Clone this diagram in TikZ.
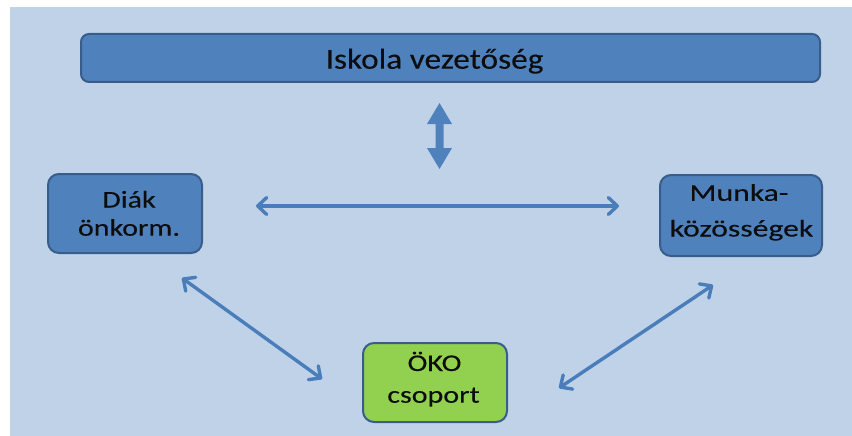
\documentclass[tikz,border=0pt]{standalone}
\usepackage{fontspec}
\setmainfont{Carlito}
\newfontfamily\topfont[FakeStretch=1.15,FakeBold=0.2]{Carlito}
\newfontfamily\wfont[FakeStretch=1.25,FakeBold=0.2]{Carlito}
\newfontfamily\wwfont[FakeStretch=1.32,FakeBold=0.2]{Carlito}
\usetikzlibrary{arrows.meta}
\definecolor{bgc}{HTML}{C0D2E8}
\definecolor{boxc}{HTML}{4F81BD}
\definecolor{edgec}{HTML}{385D8A}
\definecolor{greenc}{HTML}{92D050}
\definecolor{arrc}{HTML}{4A7EBB}
\definecolor{txtc}{HTML}{0D0D0D}
\tikzset{
  box/.style={draw=edgec, line width=2pt, fill=boxc, rounded corners=11pt,
    inner sep=0pt},
  lbl/.style={anchor=base, inner sep=0pt, text=txtc},
  boxtext/.style={lbl, font=\wfont\fontsize{24pt}{28pt}\selectfont},
  link/.style={draw=arrc, line width=3.4pt,
    {Straight Barb[length=9pt,width=17pt,round]}-{Straight Barb[length=9pt,width=17pt,round]}},
}
\begin{document}
\begin{tikzpicture}[x=1pt,y=-1pt]
\useasboundingbox (0,0) rectangle (852,436);
\fill[white] (0,0) rectangle (852,436);
\fill[bgc] (10,7) rectangle (852,436);
\node[box, rounded corners=8pt, minimum width=739pt, minimum height=48pt] (top) at (450.5,58) {};
\node[box, minimum width=154pt, minimum height=79pt] (diak) at (125,213.5) {};
\node[box, minimum width=162pt, minimum height=81pt] (munka) at (741,215.5) {};
\node[box, fill=greenc, minimum width=144pt, minimum height=79pt] (oko) at (435,382.5) {};
\node[lbl, font=\topfont\fontsize{29pt}{34pt}\selectfont] (topT) at (434.5,68.7) {Iskola vezetőség};
\node[boxtext] (diakA) at (129,207.5) {Diák};
\node[boxtext] (diakB) at (129,235.7) {önkorm.};
\node[boxtext, font=\wwfont\fontsize{24pt}{28pt}\selectfont] (munkaA) at (739,200.8) {Munka-};
\node[boxtext, font=\wwfont\fontsize{24pt}{28pt}\selectfont] (munkaB) at (741.5,236.5) {közösségek};
\node[boxtext] (okoA) at (434.5,371) {ÖKO};
\node[boxtext] (okoB) at (433.5,402.7) {csoport};
% block double arrow
\fill[boxc] (439.5,103) -- (452,124) -- (443.5,124) -- (443.5,148) -- (452,148)
  -- (439.5,169) -- (427,148) -- (435.5,148) -- (435.5,124) -- (427,124) -- cycle;
\coordinate (hl) at (256,206);
\coordinate (hr) at (619,206);
\coordinate (dl1) at (182,278);
\coordinate (dl2) at (322,379);
\coordinate (dr1) at (713,285);
\coordinate (dr2) at (559,388);
\draw[link] (hl) -- (hr);
\draw[link] (dl1) -- (dl2);
\draw[link] (dr1) -- (dr2);
\end{tikzpicture}
\end{document}
